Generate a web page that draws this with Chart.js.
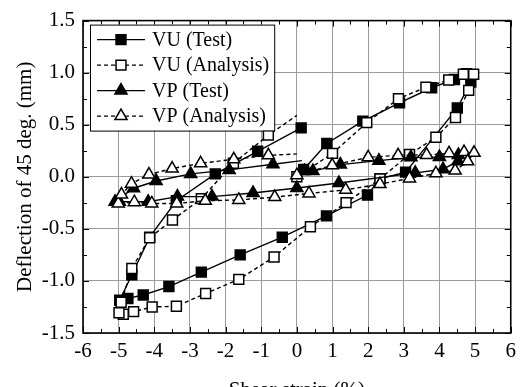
<!DOCTYPE html>
<html>
<head>
<meta charset="utf-8">
<script src="https://cdn.jsdelivr.net/npm/chart.js@4"></script>
<style>
  html, body { margin: 0; padding: 0; background: #fff; }
  #wrap { width: 522px; height: 387px; }
</style>
</head>
<body>
<div id="wrap"><canvas id="chart" width="522" height="387"></canvas></div>
<script>
"use strict";

// shear strain (%) / deflection (mm)
const vuTestX = [0.19, 0.84, 1.85, 2.88, 3.78, 4.42, 4.76, 4.88, 4.50, 3.05, 2.33, 1.98, 0.83, -0.41, -1.59, -2.68, -3.59, -4.31, -4.74, -4.97, -4.63, -4.13, -3.38, -2.29, -1.10, 0.12];
const vuTestY = [0.07, 0.32, 0.535, 0.71, 0.855, 0.935, 0.99, 0.91, 0.66, 0.045, -0.02, -0.175, -0.375, -0.58, -0.75, -0.915, -1.054, -1.135, -1.168, -1.185, -0.94, -0.58, -0.23, 0.028, 0.245, 0.47];

const vuAnaX = [0.0, 1.0, 1.96, 2.85, 3.62, 4.26, 4.67, 4.96, 4.82, 4.45, 3.90, 3.16, 2.33, 1.38, 0.38, -0.64, -1.63, -2.56, -3.38, -4.06, -4.58, -4.87, -4.99, -4.93, -4.63, -4.13, -3.49, -2.68, -1.78, -0.80, 0.0];
const vuAnaY = [0.0, 0.225, 0.52, 0.75, 0.86, 0.93, 0.985, 0.985, 0.83, 0.57, 0.38, 0.215, -0.02, -0.248, -0.48, -0.77, -0.985, -1.12, -1.243, -1.25, -1.295, -1.32, -1.305, -1.205, -0.88, -0.585, -0.415, -0.21, 0.13, 0.40, 0.59];

const vpTestX = [0.21, 0.45, 1.22, 2.30, 3.20, 4.00, 4.53, 4.52, 4.10, 3.32, 1.18, 0.0, -1.23, -2.38, -3.35, -4.17, -4.98, -5.10, -4.58, -3.95, -2.98, -1.90, -0.67, 0.14];
const vpTestY = [0.055, 0.055, 0.117, 0.155, 0.187, 0.19, 0.21, 0.15, 0.073, 0.038, -0.06, -0.108, -0.155, -0.19, -0.19, -0.24, -0.24, -0.24, -0.11, -0.04, 0.028, 0.066, 0.12, 0.155];

const vpAnaX = [0.0, 0.99, 2.0, 2.84, 3.64, 4.27, 4.69, 4.97, 4.79, 4.44, 3.90, 3.16, 2.33, 1.37, 0.34, -0.62, -1.63, -2.57, -3.37, -4.07, -4.56, -5.01, -4.92, -4.64, -4.15, -3.50, -2.70, -1.77, -0.80, 0.0];
const vpAnaY = [0.016, 0.11, 0.187, 0.206, 0.21, 0.225, 0.237, 0.23, 0.149, 0.06, 0.033, -0.016, -0.07, -0.125, -0.16, -0.195, -0.222, -0.23, -0.256, -0.256, -0.244, -0.256, -0.17, -0.066, 0.022, 0.079, 0.13, 0.168, 0.206, 0.22];

const labels = ['VU (Test)', 'VU (Analysis)', 'VP (Test)', 'VP (Analysis)'];

const FONT = '"Liberation Serif", "Times New Roman", serif';

function pts(xs, ys) {
    return xs.map((x, i) => ({x: x, y: ys[i]}));
}

// last point of a branch is only the end of the curve, no marker on it
function radiusNoLast(n) {
    return ctx => ctx.dataIndex === n - 1 ? 0 : 7;
}

function series(label, xs, ys, dashed, style, filled, hideLast, order) {
    return {
        label: label,
        data: pts(xs, ys),
        showLine: true,
        borderColor: '#000',
        borderWidth: 1.4,
        borderDash: dashed ? [4, 3] : [],
        tension: 0,
        pointStyle: style,
        pointRadius: hideLast ? radiusNoLast(xs.length) : 7,
        pointBackgroundColor: filled ? '#000' : '#fff',
        pointBorderColor: '#000',
        pointBorderWidth: 1.5,
        order: order
    };
}

function marker(ctx, style, x, y, r, filled) {
    ctx.beginPath();
    if (style === 'rect') {
        const s = Math.SQRT1_2 * r;
        ctx.rect(x - s, y - s, 2 * s, 2 * s);
    } else {
        ctx.moveTo(x, y - r);
        ctx.lineTo(x + 0.866 * r, y + 0.5 * r);
        ctx.lineTo(x - 0.866 * r, y + 0.5 * r);
        ctx.closePath();
    }
    ctx.fillStyle = filled ? '#000' : '#fff';
    ctx.fill();
    ctx.lineWidth = 1.5;
    ctx.setLineDash([]);
    ctx.strokeStyle = '#000';
    ctx.stroke();
}

const frame = {
    id: 'frame',
    afterDraw(chart) {
        const {ctx, chartArea: a, scales} = chart;
        const x = scales.x, y = scales.y;
        ctx.save();
        ctx.strokeStyle = '#000';
        ctx.lineWidth = 1;
        ctx.setLineDash([]);
        ctx.beginPath();
        for (let v = -6; v <= 6.001; v += 0.5) {
            const px = Math.round(x.getPixelForValue(v)) + 0.5;
            const len = Math.abs(v % 1) < 0.01 ? 6 : 4;
            ctx.moveTo(px, a.bottom); ctx.lineTo(px, a.bottom - len);
            ctx.moveTo(px, a.top); ctx.lineTo(px, a.top + len);
        }
        for (let v = -1.5; v <= 1.501; v += 0.25) {
            const py = Math.round(y.getPixelForValue(v)) + 0.5;
            const len = Math.abs((v * 2) % 1) < 0.01 ? 6 : 4;
            ctx.moveTo(a.left, py); ctx.lineTo(a.left + len, py);
            ctx.moveTo(a.right, py); ctx.lineTo(a.right - len, py);
        }
        ctx.stroke();
        ctx.lineWidth = 1.6;
        ctx.strokeRect(a.left, a.top, a.right - a.left, a.bottom - a.top);

        // legend box, top left inside the plot
        ctx.font = '20px ' + FONT;
        const sets = chart.data.datasets;
        const bx = a.left + 7, by = a.top + 4;
        const textX = bx + 62;
        let tw = 0;
        sets.forEach(d => { tw = Math.max(tw, ctx.measureText(d.label).width); });
        const bw = textX - bx + tw + 5, bh = 106;
        ctx.fillStyle = '#fff';
        ctx.fillRect(bx, by, bw, bh);
        ctx.lineWidth = 1;
        ctx.strokeRect(bx + 0.5, by + 0.5, bw, bh);
        sets.forEach((d, i) => {
            const ry = by + 15 + i * 25.5;
            ctx.beginPath();
            ctx.setLineDash(d.borderDash);
            ctx.lineWidth = 1.4;
            ctx.moveTo(bx + 7, ry);
            ctx.lineTo(bx + 55, ry);
            ctx.stroke();
            marker(ctx, d.pointStyle, bx + 31, ry, 7, d.pointBackgroundColor === '#000');
            ctx.fillStyle = '#000';
            ctx.textBaseline = 'middle';
            ctx.textAlign = 'left';
            ctx.fillText(d.label, textX, ry + 1);
        });
        ctx.restore();
    }
};

new Chart(document.getElementById('chart'), {
    type: 'scatter',
    data: {
        datasets: [
            series(labels[0], vuTestX, vuTestY, false, 'rect', true, false, 4),
            series(labels[1], vuAnaX, vuAnaY, true, 'rect', false, true, 3),
            series(labels[2], vpTestX, vpTestY, false, 'triangle', true, true, 2),
            series(labels[3], vpAnaX, vpAnaY, true, 'triangle', false, true, 1)
        ]
    },
    options: {
        responsive: false,
        animation: false,
        devicePixelRatio: 1,
        layout: {padding: {top: 17, right: 10, left: 0, bottom: 0}},
        plugins: {
            legend: {display: false},
            tooltip: {enabled: false}
        },
        scales: {
            x: {
                type: 'linear',
                min: -6,
                max: 6,
                ticks: {stepSize: 1, color: '#000', padding: 6, font: {family: FONT, size: 21}},
                grid: {color: '#9c9c9c', lineWidth: 1, drawTicks: false},
                border: {display: false},
                title: {display: true, text: 'Shear strain (%)', color: '#000',
                    font: {family: FONT, size: 21}, padding: {top: 0, bottom: -16}},
                afterFit(scale) { scale.height = 54; }
            },
            y: {
                type: 'linear',
                min: -1.5,
                max: 1.5,
                ticks: {stepSize: 0.5, color: '#000', padding: 8, font: {family: FONT, size: 21},
                    callback: v => v.toFixed(1)},
                grid: {color: '#9c9c9c', lineWidth: 1, drawTicks: false},
                border: {display: false},
                title: {display: true, text: 'Deflection of 45 deg. (mm)', color: '#000',
                    font: {family: FONT, size: 21}, padding: {top: 13, bottom: 0}},
                afterFit(scale) { scale.width = 83; }
            }
        }
    },
    plugins: [frame]
});
</script>
</body>
</html>
